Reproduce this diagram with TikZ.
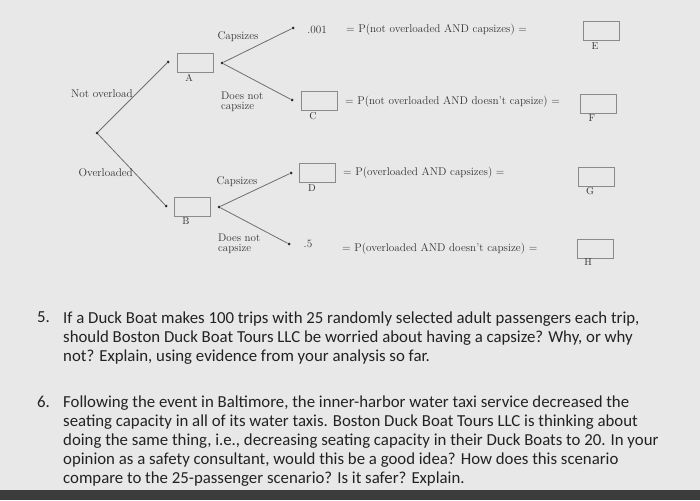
\documentclass[tikz,border=0pt]{standalone}
\usepackage{fontspec}
\newfontfamily\qfont{Carlito}
\definecolor{bgc}{HTML}{E8E8E8}
\definecolor{linec}{HTML}{6E6E6E}
\definecolor{boxc}{HTML}{8A8A8A}
\definecolor{txt}{HTML}{333333}
\definecolor{qtxt}{HTML}{222222}
\definecolor{dotc}{HTML}{2A2A2A}
\definecolor{bandc}{HTML}{3C3C3C}
\begin{document}
\begin{tikzpicture}[x=1pt,y=-1pt,
  dot/.style={circle,fill=dotc,inner sep=0pt,minimum size=3pt},
  ansbox/.style={draw=boxc,line width=0.8pt,minimum width=36pt,minimum height=19pt,inner sep=0pt},
  branch/.style={draw=linec,line width=0.8pt},
  lbl/.style={font=\fontsize{11.2}{11}\selectfont,text=txt,inner sep=0pt},
  boxlbl/.style={font=\fontsize{10}{10}\selectfont,text=txt,inner sep=0pt},
  eqlbl/.style={font=\fontsize{11.2}{11}\selectfont,text=txt,inner sep=0pt,anchor=west},
  qtext/.style={font=\qfont\fontsize{16.8}{19}\selectfont,text=qtxt,inner sep=0pt,align=left,anchor=north west}
]
\useasboundingbox (0,0) rectangle (700,500);
\fill[bgc] (0,0) rectangle (700,500);
\fill[bandc] (0,490) rectangle (700,500);

% tree nodes
\node[dot] (root) at (97,133) {};
\node[dot] (pA) at (168,62) {};
\node[ansbox] (A) at (195,62.5) {};
\node[boxlbl] (Al) at (189,78) {A};
\node[dot] (sA) at (222,63) {};
\node[dot] (AC) at (293,28) {};
\node[dot] (AN) at (292,100) {};
\node[ansbox] (C) at (319,101) {};
\node[boxlbl] (Cl) at (313,116) {C};
\node[lbl] (p1) at (317,30) {.001};

\node[dot] (pB) at (166,206) {};
\node[ansbox] (B) at (192.5,206.5) {};
\node[boxlbl] (Bl) at (186,221) {B};
\node[dot] (sB) at (219,207) {};
\node[dot] (BC) at (291,173) {};
\node[ansbox] (D) at (317.5,173) {};
\node[boxlbl] (Dl) at (312,188) {D};
\node[dot] (BN) at (289,244) {};
\node[lbl] (p2) at (308,244) {.5};

% branches
\draw[branch] (root) -- (pA);
\draw[branch] (root) -- (pB);
\draw[branch] (sA) -- (AC);
\draw[branch] (sA) -- (AN);
\draw[branch] (sB) -- (BC);
\draw[branch] (sB) -- (BN);

% branch labels
\node[lbl,anchor=east] (nol) at (133,94) {Not overload};
\node[lbl,anchor=east] (ovl) at (133,173) {Overloaded};
\node[lbl] (cap1) at (238,37) {Capsizes};
\node[lbl] (cap2) at (237,182) {Capsizes};
\node[lbl,align=left,anchor=west,font=\fontsize{11}{10}\selectfont] (dn1) at (221,102) {Does not\\capsize};
\node[lbl,align=left,anchor=west,font=\fontsize{11}{10}\selectfont] (dn2) at (218,244) {Does not\\capsize};

% joint probability rows
\node[eqlbl] (e1) at (346,30) {= P(not overloaded AND capsizes) =};
\node[ansbox] (E) at (601,30.5) {};
\node[boxlbl] (El) at (595,46) {E};
\node[eqlbl] (e2) at (345,102) {= P(not overloaded AND doesn't capsize) =};
\node[ansbox] (F) at (598.5,103.5) {};
\node[boxlbl] (Fl) at (592,118) {F};
\node[eqlbl] (e3) at (343,173) {= P(overloaded AND capsizes) =};
\node[ansbox] (G) at (596.5,177) {};
\node[boxlbl] (Gl) at (590,191) {G};
\node[eqlbl] (e4) at (342,249) {= P(overloaded AND doesn't capsize) =};
\node[ansbox] (H) at (595,248.5) {};
\node[boxlbl] (Hl) at (588,262) {H};

% questions
\node[qtext] (q5n) at (37,312) {5.};
\node[qtext] (q5) at (63,312) {If a Duck Boat makes 100 trips with 25 randomly selected adult passengers each trip,\\should Boston Duck Boat Tours LLC be worried about having a capsize? Why, or why\\not? Explain, using evidence from your analysis so far.};
\node[qtext] (q6n) at (37,396) {6.};
\node[qtext] (q6) at (63,396) {Following the event in Baltimore, the inner-harbor water taxi service decreased the\\seating capacity in all of its water taxis. Boston Duck Boat Tours LLC is thinking about\\doing the same thing, i.e., decreasing seating capacity in their Duck Boats to 20. In your\\opinion as a safety consultant, would this be a good idea? How does this scenario\\compare to the 25-passenger scenario? Is it safer? Explain.};
\end{tikzpicture}
\end{document}
